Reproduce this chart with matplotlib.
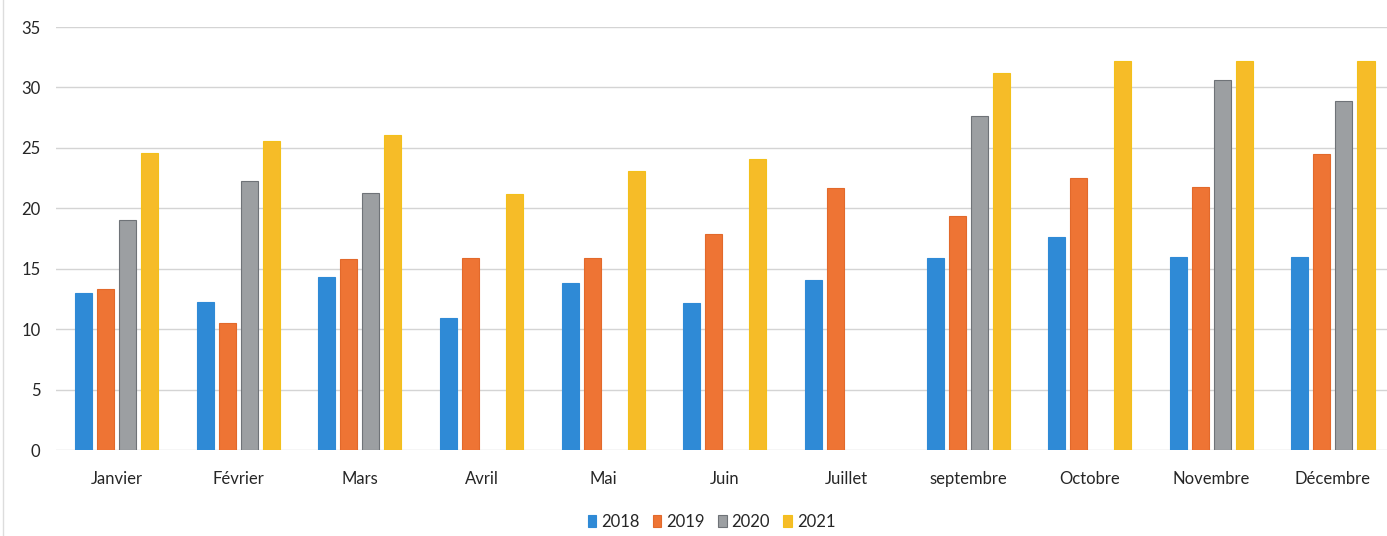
import numpy as np
from matplotlib import pyplot as plt

months = ["Janvier", "Février", "Mars", "Avril", "Mai", "Juin", "Juillet",
          "septembre", "Octobre", "Novembre", "Décembre"]
years = ["2018", "2019", "2020", "2021"]

nan = np.nan
v2018 = [13.0, 12.3, 14.3, 10.9, 13.8, 12.2, 14.1, 15.9, 17.6, 16.0, 16.0]
v2019 = [13.3, 10.5, 15.8, 15.9, 15.9, 17.9, 21.7, 19.4, 22.5, 21.8, 24.5]
v2020 = [19.0, 22.3, 21.3, nan, nan, nan, nan, 27.6, nan, 30.6, 28.9]
v2021 = [24.6, 25.6, 26.1, 21.2, 23.1, 24.1, nan, 31.2, 32.2, 32.2, 32.2]

colors = ["#2F8AD6", "#EE7434", "#9C9FA2", "#F6BC28"]
edges = ["#2F8AD6", "#E2692B", "#6F7378", "#F3C01A"]

plt.rcParams['font.family'] = ['Lato', 'DejaVu Sans']

fig = plt.figure(figsize=(13.87, 5.36), dpi=100)
ax = fig.add_axes([0.0402, 0.160, 0.9647, 0.7896])

x = np.arange(len(months))
step = 0.181
width = 0.14
series = [v2018, v2019, v2020, v2021]
for i, (vals, lab) in enumerate(zip(series, years)):
    ax.bar(x + (i - 1.5) * step, vals, width, color=colors[i],
           edgecolor=edges[i], linewidth=0.8, label=lab, zorder=3)

ax.set_xlim(-0.5, len(months) - 0.5)
ax.set_ylim(0, 35)
ax.set_yticks(range(0, 36, 5))
ax.set_xticks(x)
ax.set_xticklabels(months, fontsize=12, color="#262626")
ax.tick_params(axis='y', labelsize=12, labelcolor="#262626", pad=11)
ax.tick_params(length=0)
ax.tick_params(axis='x', pad=15)
ax.grid(axis='y', color="#D4D4D4", linewidth=1, zorder=0)
for s in ax.spines.values():
    s.set_visible(False)

fig.legend(loc='center', bbox_to_anchor=(0.513, 0.027), ncol=4,
           frameon=False, fontsize=12, handlelength=0.5, handleheight=0.7,
           handletextpad=0.3, columnspacing=0.8, labelcolor="#262626")

fig.add_artist(plt.Line2D([0.002, 0.002], [0, 1], color="#DDDDDD", lw=1))

plt.savefig("out.png", dpi=100)
